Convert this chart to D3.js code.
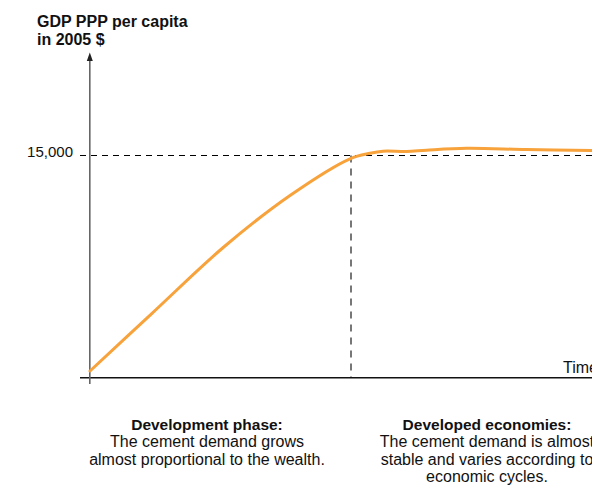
<!DOCTYPE html>
<html>
<head>
<meta charset="utf-8">
<script src="https://cdn.jsdelivr.net/npm/d3@7"></script>
<style>
  html, body { margin: 0; padding: 0; background: #fff; }
  svg { display: block; font-family: "Liberation Sans", Arial, Helvetica, sans-serif; }
</style>
</head>
<body>
<svg id="chart" width="592" height="486"></svg>
<script>
// ---- data ----
const timeSteps = [0, 12.3, 26.7, 40, 52, 56, 58.6, 63.3, 67.3, 75.3, 87.3, 100.6];
const gdpValues = [440, 4300, 8800, 12300, 14780, 15150, 15290, 15270, 15360, 15490, 15400, 15340];
const yTickValues = [15000];
const yTickLabels = ["15,000"];
const phaseBoundary = 52.2;
const yAxisTitle = ["GDP PPP per capita", "in 2005 $"];
const xAxisTitle = "Time";
const leftNote = { title: "Development phase:", lines: ["The cement demand grows", "almost proportional to the wealth."] };
const rightNote = { title: "Developed economies:", lines: ["The cement demand is almost", "stable and varies according to", "economic cycles."] };

// ---- layout ----
const svg = d3.select("#chart");
const x = d3.scaleLinear().domain([0, 100]).range([90, 590]);
const y = d3.scaleLinear().domain([0, 15000]).range([377.5, 155.5]);

// horizontal dashed reference
svg.append("line")
  .attr("x1", 80).attr("x2", 592)
  .attr("y1", y(15000)).attr("y2", y(15000))
  .attr("stroke", "#000").attr("stroke-width", 1)
  .attr("stroke-dasharray", "6,5");

// vertical dashed phase boundary
svg.append("line")
  .attr("x1", x(phaseBoundary)).attr("x2", x(phaseBoundary))
  .attr("y1", y(15000)).attr("y2", 377)
  .attr("stroke", "#777").attr("stroke-width", 2)
  .attr("stroke-dasharray", "7,6");

// x axis line
svg.append("line")
  .attr("x1", 80).attr("x2", 592)
  .attr("y1", 377.8).attr("y2", 377.8)
  .attr("stroke", "#111").attr("stroke-width", 1.5);

// y axis line with arrow
svg.append("line")
  .attr("x1", 89.8).attr("x2", 89.8)
  .attr("y1", 384).attr("y2", 56)
  .attr("stroke", "#666").attr("stroke-width", 1.6);
svg.append("path")
  .attr("d", "M86.8,61 L89.8,52.5 L92.8,61 Z")
  .attr("fill", "#222");

// y axis tick labels via d3 axis
const yAxis = d3.axisLeft(y)
  .tickValues(yTickValues)
  .tickFormat((d, i) => yTickLabels[i])
  .tickSize(0).tickPadding(0);
const gy = svg.append("g").attr("transform", "translate(73,0)").call(yAxis);
gy.select(".domain").remove();
gy.selectAll("text")
  .attr("font-size", 15).attr("fill", "#111")
  .attr("font-family", "Liberation Sans, Arial, sans-serif")
  .attr("dy", "0.05em");

// curve
const line = d3.line()
  .x((d, i) => x(timeSteps[i]))
  .y(d => y(d))
  .curve(d3.curveCatmullRom.alpha(0.5));
svg.append("path")
  .datum(gdpValues)
  .attr("d", line)
  .attr("fill", "none")
  .attr("stroke", "#F7A23B")
  .attr("stroke-width", 3)
  .attr("stroke-linecap", "round");

// titles
svg.append("text").attr("x", 37).attr("y", 27)
  .attr("font-size", 16).attr("font-weight", "bold").attr("fill", "#111")
  .text(yAxisTitle[0]);
svg.append("text").attr("x", 37).attr("y", 44.5)
  .attr("font-size", 16).attr("font-weight", "bold").attr("fill", "#111")
  .text(yAxisTitle[1]);

svg.append("text").attr("x", 563).attr("y", 373)
  .attr("font-size", 16).attr("fill", "#111")
  .text(xAxisTitle);

// notes
function note(cx, n) {
  const g = svg.append("g").attr("text-anchor", "middle").attr("fill", "#111");
  g.append("text").attr("x", cx).attr("y", 429.5)
    .attr("font-size", 15.5).attr("font-weight", "bold").text(n.title);
  n.lines.forEach((t, i) => {
    g.append("text").attr("x", cx).attr("y", 447 + i * 17.5)
      .attr("font-size", 16).text(t);
  });
}
note(207, leftNote);
note(487, rightNote);
</script>
</body>
</html>
